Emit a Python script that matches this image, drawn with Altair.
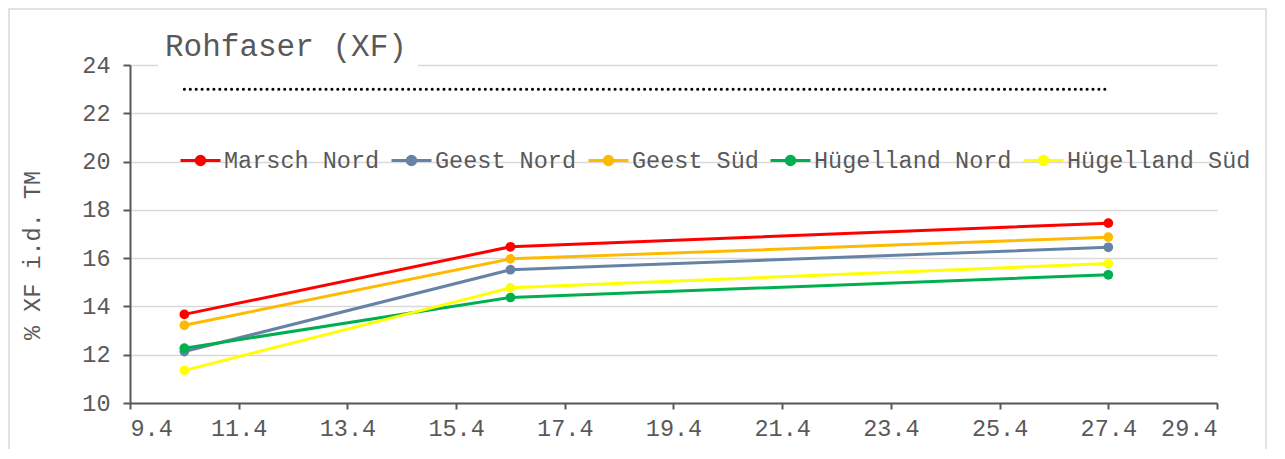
import altair as alt
import pandas as pd

# ---- data ----
x_values = [10.4, 16.4, 27.4]
series_names = ["Marsch Nord", "Geest Nord", "Geest Süd", "Hügelland Nord", "Hügelland Süd"]
marsch_nord = [13.67, 16.47, 17.45]
geest_nord = [12.13, 15.52, 16.45]
geest_sued = [13.22, 15.97, 16.87]
huegelland_nord = [12.27, 14.37, 15.31]
huegelland_sued = [11.35, 14.77, 15.78]
series_colors = ["#FF0000", "#6683A6", "#FFBA00", "#00B050", "#FFFF00"]

ref_x = [10.4, 27.4]
ref_y = [23, 23]

x_ticks = [9.4, 11.4, 13.4, 15.4, 17.4, 19.4, 21.4, 23.4, 25.4, 27.4, 29.4]
y_ticks = [10, 12, 14, 16, 18, 20, 22, 24]

title_text = ["Rohfaser (XF)"]
y_title = "% XF i.d. TM"

FONT = "Courier New, Liberation Mono, monospace"
TXT = "#595959"

rows = []
for name, vals in zip(series_names, [marsch_nord, geest_nord, geest_sued, huegelland_nord, huegelland_sued]):
    for xv, yv in zip(x_values, vals):
        rows.append({"x": xv, "y": yv, "Serie": name})
df = pd.DataFrame(rows)
ref_df = pd.DataFrame({"x": ref_x, "y": ref_y})
title_df = pd.DataFrame({"t": title_text})

W, H = 1087, 338
PL, PT, PR, PB = 122, 57, 50, 46

x_scale = alt.Scale(domain=[9.4, 29.4], nice=False, zero=False)
y_scale = alt.Scale(domain=[10, 24], nice=False, zero=False)

x_axis = alt.Axis(values=x_ticks, format=".1f", grid=False, title=None,
                  domainColor=TXT, domainWidth=2, tickColor=TXT, tickWidth=2, tickSize=6,
                  labelFont=FONT, labelFontSize=23.5, labelColor=TXT, labelPadding=7)
y_axis = alt.Axis(values=y_ticks, format="d", grid=True, gridColor="#D9D9D9", gridWidth=1.5,
                  domainColor=TXT, domainWidth=2, tickColor=TXT, tickWidth=2, tickSize=7,
                  labelFont=FONT, labelFontSize=23.5, labelColor=TXT, labelPadding=13,
                  title=y_title, titleFont=FONT, titleFontSize=23.5, titleColor=TXT,
                  titleFontWeight="normal", titleAngle=270, titleX=-98, titleY=190,
                  titleAlign="center", titleBaseline="middle")

sym_path = ("M-1,0L1,0M0.21,0A0.21,0.21,0,1,1,-0.21,0A0.21,0.21,0,1,1,0.21,0Z")
legend = alt.Legend(title=None, orient="none", legendX=49, legendY=74, direction="horizontal",
                    columns=5, symbolType=sym_path, symbolSize=1600, symbolStrokeWidth=3,
                    labelFont=FONT, labelFontSize=23.5, labelColor=TXT, labelOffset=2,
                    labelLimit=0, columnPadding=5, padding=0)

color = alt.Color("Serie:N", scale=alt.Scale(domain=series_names, range=series_colors),
                  sort=series_names, legend=legend)

base = alt.Chart(df)
lines = base.mark_line(strokeWidth=3).encode(
    x=alt.X("x:Q", scale=x_scale, axis=x_axis),
    y=alt.Y("y:Q", scale=y_scale, axis=y_axis),
    color=color,
)
points = base.mark_point(filled=True, size=95, opacity=1).encode(
    x=alt.X("x:Q", scale=x_scale),
    y=alt.Y("y:Q", scale=y_scale),
    color=color,
)
ref = alt.Chart(ref_df).mark_line(color="black", strokeWidth=3, strokeDash=[0.1, 5.8],
                                  strokeCap="round").encode(
    x=alt.X("x:Q", scale=x_scale),
    y=alt.Y("y:Q", scale=y_scale),
)

deco_df = pd.DataFrame({"k": [0]})
# white box behind the title (covers the top gridline), and the outer frame
title_box = alt.Chart(deco_df).mark_rect(color="white").encode(
    x=alt.value(28), x2=alt.value(288), y=alt.value(-26), y2=alt.value(4))
frame = alt.Chart(deco_df).mark_rect(fill=None, stroke="#D9D9D9", strokeWidth=1.5).encode(
    x=alt.value(-PL + 1), x2=alt.value(W + PR - 1), y=alt.value(-PT + 1), y2=alt.value(H + PB + 20))
title = alt.Chart(title_df).mark_text(font=FONT, fontSize=31, color=TXT, align="left",
                                      baseline="alphabetic").encode(
    text="t:N", x=alt.value(35), y=alt.value(-9))

chart = alt.layer(frame, ref, lines, points, title_box, title).properties(
    width=W, height=H,
    padding={"left": PL, "top": PT, "right": PR, "bottom": PB},
    autosize=alt.AutoSizeParams(type="none"),
).configure_view(stroke=None)

chart.save("out.html", embed_options={"renderer": "svg", "actions": False})
